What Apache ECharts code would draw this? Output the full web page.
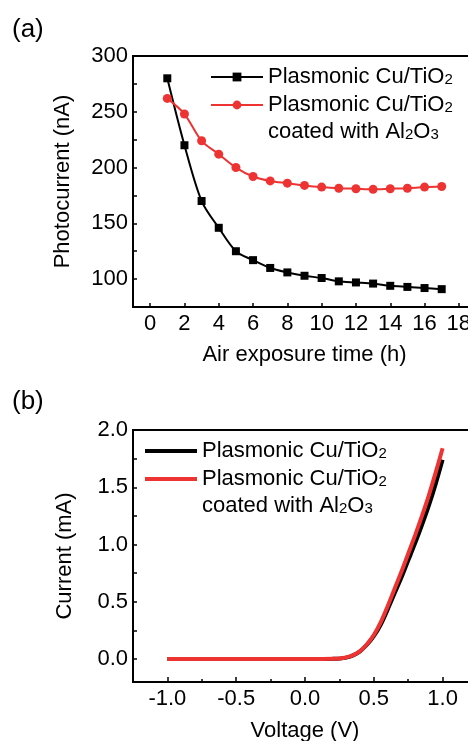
<!DOCTYPE html>
<html><head><meta charset="utf-8">
<script src="https://cdn.jsdelivr.net/npm/echarts@6/dist/echarts.min.js"></script>
<style>html,body{margin:0;padding:0;background:#fff}#c{width:468px;height:741px}</style>
</head><body><div id="c"></div>
<script>
// Panel (a): photocurrent vs air exposure time
const hours = [1,2,3,4,5,6,7,8,9,10,11,12,13,14,15,16,17];
const photoBare = [280,220,170,146,125,117,110,106,103,101,98,97,96,94,93,92,91];
const photoCoated = [262,248,224,212,200,192,188,186,184,182.5,181.5,181,180.5,181,181.5,182.5,183];
const xTicksA = [0,2,4,6,8,10,12,14,16,18];
// Panel (b): I-V curves
const voltage = [-1.0,-0.8,-0.6,-0.4,-0.2,0.0,0.1,0.2,0.25,0.3,0.35,0.4,0.45,0.5,0.55,0.6,0.65,0.7,0.75,0.8,0.85,0.9,0.95,1.0];
const currentBare = [0,0,0,0,0,0,0.001,0.002,0.004,0.013,0.033,0.068,0.125,0.20,0.30,0.43,0.57,0.71,0.86,1.01,1.17,1.34,1.53,1.74];
const currentCoated = [0,0,0,0,0,0,0.001,0.002,0.005,0.015,0.035,0.07,0.13,0.21,0.32,0.46,0.61,0.76,0.92,1.08,1.25,1.43,1.63,1.84];
const xMajorB = [-1.0,-0.5,0.0,0.5,1.0];
const xMinorB = [-0.75,-0.25,0.25,0.75];
const yTicksB = [0,0.25,0.5,0.75,1.0,1.25,1.5,1.75,2.0];
const yLabelsB = [0,0.5,1.0,1.5,2.0];

const nameBare = 'Plasmonic Cu/TiO2';
const nameCoated = 'Plasmonic Cu/TiO2 coated with Al2O3';

const F = '"Liberation Sans", Arial, sans-serif';
const RED = '#ee3333';
const rich = {
  t: {fontSize: 22, fontFamily: F, color: '#000', lineHeight: 27},
  s: {fontSize: 15, fontFamily: F, color: '#000', padding: [5,0,0,0]}
};
function legendText(name) {
  if (name === nameBare) return '{t|Plasmonic Cu/TiO}{s|2}';
  return '{t|Plasmonic Cu/TiO}{s|2}\n{t|coated with Al}{s|2}{t|O}{s|3}';
}
const axisFont = {fontSize: 22, fontFamily: F, color: '#000'};
const axisLineStyle = {show: true, onZero: false, lineStyle: {color: '#000', width: 2}};

function mkLegend(name, left, top, iw, ih, padTop, icon) {
  const l = {
    data: [name], left: left, top: top, padding: 0, itemWidth: iw, itemHeight: ih,
    formatter: legendText, selectedMode: false,
    textStyle: {fontSize: 22, fontFamily: F, color: '#000', rich: rich, padding: [padTop,0,0,0]}
  };
  if (icon) l.icon = icon;
  return l;
}

const chart = echarts.init(document.getElementById('c'), null, {renderer: 'canvas'});
chart.setOption({
  animation: false,
  backgroundColor: '#fff',
  title: [
    {text: '(a)', left: 12, top: 17, padding: 0, textStyle: {fontSize: 26, fontWeight: 'normal', fontFamily: F, color: '#000'}},
    {text: '(b)', left: 12, top: 389, padding: 0, textStyle: {fontSize: 26, fontWeight: 'normal', fontFamily: F, color: '#000'}}
  ],
  grid: [
    {left: 133, top: 56, width: 343, height: 251, show: true, borderColor: '#000', borderWidth: 2, containLabel: false, outerBoundsMode: 'none'},
    {left: 133, top: 430, width: 344, height: 252, show: true, borderColor: '#000', borderWidth: 2, containLabel: false, outerBoundsMode: 'none'}
  ],
  legend: [
    mkLegend(nameBare, 210, 66, 52, 11, 0),
    mkLegend(nameCoated, 210, 94, 52, 11, 27),
    mkLegend(nameBare, 145, 440, 52, 4, 0, 'rect'),
    mkLegend(nameCoated, 145, 468, 52, 4, 27, 'rect')
  ],
  xAxis: [
    {type: 'value', gridIndex: 0, min: -1, max: 19, position: 'bottom',
     axisLine: axisLineStyle, splitLine: {show: false},
     axisTick: {inside: true, length: 4, customValues: xTicksA, lineStyle: {color: '#000', width: 1.5}},
     axisLabel: Object.assign({customValues: xTicksA, margin: 6}, axisFont),
     name: 'Air exposure time (h)', nameLocation: 'middle', nameGap: 37, nameMoveOverlap: false,
     nameTextStyle: axisFont},
    {type: 'value', gridIndex: 1, min: -1.25, max: 1.25, position: 'bottom',
     axisLine: axisLineStyle, splitLine: {show: false},
     axisTick: {inside: true, length: 5, customValues: xMajorB, lineStyle: {color: '#000', width: 1.5}},
     axisLabel: Object.assign({customValues: xMajorB, margin: 6, formatter: v => v.toFixed(1)}, axisFont),
     name: 'Voltage (V)', nameLocation: 'middle', nameGap: 38, nameMoveOverlap: false,
     nameTextStyle: axisFont},
    {type: 'value', gridIndex: 1, min: -1.25, max: 1.25, position: 'bottom', offset: 0,
     axisLine: {show: false, onZero: false}, splitLine: {show: false}, axisLabel: {show: false},
     axisTick: {inside: true, length: 3, customValues: xMinorB, lineStyle: {color: '#000', width: 1.5}}}
  ],
  yAxis: [
    {type: 'value', gridIndex: 0, min: 75, max: 300, interval: 25,
     axisLine: axisLineStyle, splitLine: {show: false},
     axisTick: {inside: true, length: 4, lineStyle: {color: '#000', width: 1.5}},
     axisLabel: Object.assign({margin: 5, formatter: v => (v % 50 === 0 ? String(v) : '')}, axisFont),
     name: 'Photocurrent (nA)', nameLocation: 'middle', nameGap: 59, nameMoveOverlap: false,
     nameTextStyle: axisFont},
    {type: 'value', gridIndex: 1, min: -0.2, max: 2.0,
     axisLine: axisLineStyle, splitLine: {show: false},
     axisTick: {inside: true, length: 4, customValues: yTicksB, lineStyle: {color: '#000', width: 1.5}},
     axisLabel: Object.assign({customValues: yLabelsB, margin: 5, formatter: v => v.toFixed(1)}, axisFont),
     name: 'Current (mA)', nameLocation: 'middle', nameGap: 57, nameMoveOverlap: false,
     nameTextStyle: axisFont}
  ],
  series: [
    {name: nameBare, type: 'line', xAxisIndex: 0, yAxisIndex: 0,
     data: hours.map((h, i) => [h, photoBare[i]]),
     smooth: 0.3, symbol: 'rect', symbolSize: 8,
     itemStyle: {color: '#000'}, lineStyle: {color: '#000', width: 2}},
    {name: nameCoated, type: 'line', xAxisIndex: 0, yAxisIndex: 0,
     data: hours.map((h, i) => [h, photoCoated[i]]),
     smooth: 0.3, symbol: 'circle', symbolSize: 9,
     itemStyle: {color: RED}, lineStyle: {color: RED, width: 2}},
    {name: nameBare, type: 'line', xAxisIndex: 1, yAxisIndex: 1,
     data: voltage.map((v, i) => [v, currentBare[i]]),
     smooth: 0.3, symbol: 'none',
     itemStyle: {color: '#000'}, lineStyle: {color: '#000', width: 4}},
    {name: nameCoated, type: 'line', xAxisIndex: 1, yAxisIndex: 1,
     data: voltage.map((v, i) => [v, currentCoated[i]]),
     smooth: 0.3, symbol: 'none',
     itemStyle: {color: RED}, lineStyle: {color: RED, width: 4}}
  ]
});
</script>
</body></html>
